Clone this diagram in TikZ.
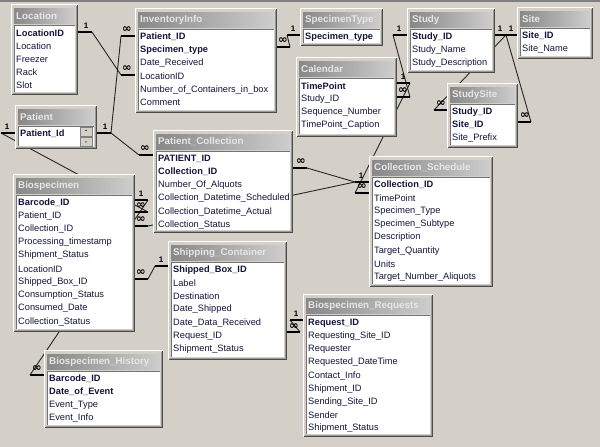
\documentclass[tikz,border=0pt]{standalone}
\usepackage{fontspec}
\setmainfont{Liberation Sans}
\newfontfamily\symfnt{DejaVu Sans}
\definecolor{bg}{HTML}{D4D0C8}
\definecolor{tbarL}{HTML}{888888}
\definecolor{tbarR}{HTML}{CDCDCD}
\definecolor{ttxt}{HTML}{E6E6E6}
\definecolor{ftxt}{HTML}{14143A}
\newcommand{\manysym}{{\symfnt\bfseries ∞}}
\tikzset{
  tframe/.style={fill=bg, draw=none, inner sep=0pt, outer sep=0pt},
  ttitle/.style={anchor=west, inner sep=0pt, text=ttxt, font=\bfseries\fontsize{9.8}{10}\selectfont},
  tfield/.style={anchor=west, inner sep=0pt, text=ftxt, font=\fontsize{9.25}{10}\selectfont},
  stubline/.style={line width=2.6pt, black},
  relline/.style={line width=0.9pt, black!85},
  card/.style={inner sep=0pt, font=\bfseries\fontsize{8}{8}\selectfont},
  mcard/.style={inner sep=0pt, font=\fontsize{11.5}{8}\selectfont},
  sbtn/.style={fill=bg, draw=black!50, line width=0.6pt, inner sep=0pt, minimum width=12pt, minimum height=9pt}
}
\newcommand{\dbtab}[7]{%
  \node[tframe, minimum width={#4-#2}, minimum height={#5-#3}, anchor=north west] (#1) at (#2,#3) {};
  \draw[white, line width=1pt] ({#2+0.5},{#5-0.5}) |- ({#4-0.5},{#3+0.5});
  \draw[black!70, line width=1pt] ({#2+0.5},{#5-0.5}) -| ({#4-0.5},{#3+0.5});
  \draw[black!40, line width=1pt] ({#2+1.5},{#5-1.5}) -| ({#4-1.5},{#3+1.5});
  \shade[left color=tbarL, right color=tbarR] ({#2+3},{#3+4}) rectangle ({#4-3},{#3+19});
  \node[ttitle] (#1-title) at ({#2+5},{#3+11.5}) {#6};
  \fill[white] ({#2+3},{#3+21}) rectangle ({#4-3},{#5-3});
  \draw[black!55, line width=1pt] ({#2+3.5},{#5-3}) |- ({#4-3},{#3+21.5});
  \foreach \f [count=\i] in {#7} {\node[tfield] (#1-\i) at ({#2+5},{#3+28.8+(\i-1)*13.2}) {\f};}
}
\begin{document}
\begin{tikzpicture}[x=1pt,y=-1pt]
\useasboundingbox (0,0) rectangle (600,447);
\fill[bg] (0,0) rectangle (600,447);
\fill[black!50] (0,0) rectangle (600,1.5);

% stub coordinates (inner = at table edge, outer = free end)
\coordinate (locRi) at (78,32);   \coordinate (locRo) at (92,32);
\coordinate (invLi) at (135,75);  \coordinate (invLo) at (121,75);
\coordinate (patRi) at (97,133);  \coordinate (patRo) at (111,133);
\coordinate (invPi) at (135,36);  \coordinate (invPo) at (121,36);
\coordinate (pcPi) at (153,155);  \coordinate (pcPo) at (139,155);
\coordinate (patLi) at (15,133);  \coordinate (patLo) at (1,133);
\coordinate (bioPi) at (135,212); \coordinate (bioPo) at (148,212);
\coordinate (bioBi) at (135,200); \coordinate (bioBo) at (148,200);
\coordinate (bhBi) at (44,375);   \coordinate (bhBo) at (30,375);
\coordinate (bioCi) at (135,226); \coordinate (bioCo) at (148,226);
\coordinate (csCi) at (369,182);  \coordinate (csCo) at (355,182);
\coordinate (pcCi) at (293,168);  \coordinate (pcCo) at (307,168);
\coordinate (csTi) at (369,193);  \coordinate (csTo) at (355,193);
\coordinate (calTi) at (397,83);  \coordinate (calTo) at (410,83);
\coordinate (calSi) at (397,97);  \coordinate (calSo) at (410,97);
\coordinate (stLi) at (407,35);   \coordinate (stLo) at (393,35);
\coordinate (invSi) at (277,47);  \coordinate (invSo) at (290,47);
\coordinate (spLi) at (300,35);   \coordinate (spLo) at (287,35);
\coordinate (stRi) at (495,35);   \coordinate (stRo) at (506,35);
\coordinate (siLi) at (517,35);   \coordinate (siLo) at (506,35);
\coordinate (ssLi) at (447,110);  \coordinate (ssLo) at (434,110);
\coordinate (ssRi) at (518,122);  \coordinate (ssRo) at (531,122);
\coordinate (bioSi) at (135,279); \coordinate (bioSo) at (148,279);
\coordinate (scLi) at (168,266);  \coordinate (scLo) at (155,266);
\coordinate (scRi) at (287,332);  \coordinate (scRo) at (300,332);
\coordinate (brLi) at (303,320);  \coordinate (brLo) at (290,320);

% relationship lines (drawn under the tables)
\draw[relline] (locRo) -- (invLo);
\draw[relline] (patRo) -- (invPo);
\draw[relline] (patRo) -- (pcPo);
\draw[relline] (patLo) -- (bioPo);
\draw[relline] (bioBo) -- (bhBo);
\draw[relline] (bioCo) -- (csCo);
\draw[relline] (pcCo) -- (csCo);
\draw[relline] (csTo) -- (calTo);
\draw[relline] (calSo) -- (stLo);
\draw[relline] (invSo) -- (spLo);
\draw[relline] (stRo) -- (ssLo);
\draw[relline] (siLo) -- (ssRo);
\draw[relline] (bioSo) -- (scLo);
\draw[relline] (scRo) -- (brLo);

% tables
\dbtab{loc}{11}{4}{78}{95}{Location}{\textbf{LocationID},Location,Freezer,Rack,Slot}
\dbtab{inv}{135}{8}{277}{113}{InventoryInfo}{\textbf{Patient\_ID},\textbf{Specimen\_type},Date\_Received,LocationID,Number\_of\_Containers\_in\_box,Comment}
\dbtab{spt}{300}{8}{383}{46}{SpecimenType}{\textbf{Specimen\_type}}
\dbtab{study}{407}{8}{495}{73}{Study}{\textbf{Study\_ID},Study\_Name,Study\_Description}
\dbtab{site}{517}{7}{593}{59}{Site}{\textbf{Site\_ID},Site\_Name}
\dbtab{cal}{296}{57}{397}{137}{Calendar}{\textbf{TimePoint},Study\_ID,Sequence\_Number,TimePoint\_Caption}
\dbtab{ss}{447}{83}{518}{148}{StudySite}{\textbf{Study\_ID},\textbf{Site\_ID},Site\_Prefix}
\dbtab{pat}{15}{105}{97}{149}{Patient}{\textbf{Patient\_Id}}
\dbtab{bio}{13}{174}{135}{332}{Biospecimen}{\textbf{Barcode\_ID},Patient\_ID,Collection\_ID,Processing\_timestamp,Shipment\_Status,LocationID,Shipped\_Box\_ID,Consumption\_Status,Consumed\_Date,Collection\_Status}
\dbtab{pc}{153}{130}{293}{233}{Patient\_Collection}{\textbf{PATIENT\_ID},\textbf{Collection\_ID},Number\_Of\_Alquots,Collection\_Datetime\_Scheduled,Collection\_Datetime\_Actual,Collection\_Status}
\dbtab{cs}{369}{156}{493}{287}{Collection\_Schedule}{\textbf{Collection\_ID},TimePoint,Specimen\_Type,Specimen\_Subtype,Description,Target\_Quantity,Units,Target\_Number\_Aliquots}
\dbtab{sc}{168}{241}{287}{360}{Shipping\_Container}{\textbf{Shipped\_Box\_ID},Label,Destination,Date\_Shipped,Date\_Data\_Received,Request\_ID,Shipment\_Status}
\dbtab{br}{303}{294}{433}{437}{Biospecimen\_Requests}{\textbf{Request\_ID},Requesting\_Site\_ID,Requester,Requested\_DateTime,Contact\_Info,Shipment\_ID,Sending\_Site\_ID,Sender,Shipment\_Status}
\dbtab{bh}{44}{350}{163}{428}{Biospecimen\_History}{\textbf{Barcode\_ID},\textbf{Date\_of\_Event},Event\_Type,Event\_Info}

% Patient scroll buttons
\node[sbtn, anchor=north west] (patUp) at (80,127) {};
\node[sbtn, anchor=north west] (patDn) at (80,137) {};
\fill[black] (85,130.5) -- (87,130.5) -- (86,129.5) -- cycle;
\fill[black] (85,141.5) -- (87,141.5) -- (86,142.5) -- cycle;

% stubs
\foreach \s in {locR,invL,patR,invP,pcP,patL,bioP,bioB,bhB,bioC,csC,pcC,csT,calT,calS,stL,invS,spL,stR,siL,ssL,ssR,bioS,scL,scR,brL}
  {\draw[stubline] (\s i) -- (\s o);}

% cardinality labels
\node[card]  (c-locR) at (86,26) {1};
\node[mcard] (c-invL) at (127,69) {\manysym};
\node[card]  (c-patR) at (105,127) {1};
\node[mcard] (c-invP) at (127,30) {\manysym};
\node[mcard] (c-pcP)  at (145,149) {\manysym};
\node[card]  (c-patL) at (7,127) {1};
\node[card]  (c-bioB) at (141,194) {1};
\node[mcard] (c-bioP) at (141,206) {\manysym};
\node[mcard] (c-bhB)  at (37,369) {\manysym};
\node[mcard] (c-bioC) at (141,220) {\manysym};
\node[card]  (c-csC)  at (361,176) {1};
\node[mcard] (c-pcC)  at (301,162) {\manysym};
\node[mcard] (c-csT)  at (362,187) {\manysym};
\node[card]  (c-calT) at (403,77) {1};
\node[mcard] (c-calS) at (403,91) {\manysym};
\node[card]  (c-stL)  at (399,29) {1};
\node[mcard] (c-invS) at (283,41) {\manysym};
\node[card]  (c-spL)  at (293,29) {1};
\node[card]  (c-stR)  at (500,29) {1};
\node[card]  (c-siL)  at (511,29) {1};
\node[mcard] (c-ssL)  at (441,104) {\manysym};
\node[mcard] (c-ssR)  at (525,116) {\manysym};
\node[mcard] (c-bioS) at (141,273) {\manysym};
\node[card]  (c-scL)  at (161,260) {1};
\node[mcard] (c-scR)  at (294,327) {\manysym};
\node[card]  (c-brL)  at (296,314) {1};
\end{tikzpicture}
\end{document}
